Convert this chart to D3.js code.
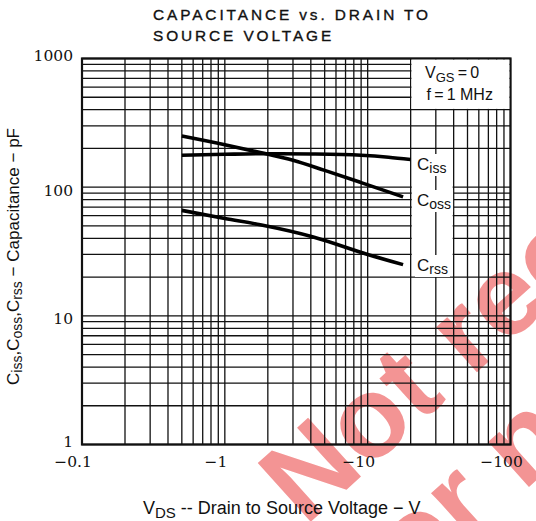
<!DOCTYPE html>
<html>
<head>
<meta charset="utf-8">
<script src="https://cdn.jsdelivr.net/npm/d3@7"></script>
<style>
  body { margin: 0; background: #fff; }
  svg { display: block; }
</style>
</head>
<body>
<div id="chart"></div>
<script>
// valeurs (VDS en valeur absolue, V ; capacités en pF)
const vdsTicks = [0.1, 1, 10, 100];
const capTicks = [1, 10, 100, 1000];

const cissVds = [0.5, 1, 2, 4, 9, 14, 20];
const cissPf  = [177, 180, 182, 181, 177, 171, 164];

const cossVds = [0.5, 1, 1.77, 3, 5, 8.9, 17.7];
const cossPf  = [250, 214, 186, 162, 135, 109, 84];

const crssVds = [0.5, 1, 1.77, 4.16, 10, 17.7];
const crssPf  = [66, 57, 51, 41, 30, 25];

const seriesNames = ["iss", "oss", "rss"];

var width = 536, height = 521;
var margin = {top: 58.5, right: 25.5, bottom: 76.5, left: 82};

var svg = d3.select("#chart")
  .append("svg")
  .attr("width", width)
  .attr("height", height);

var x = d3.scaleLog()
  .domain([vdsTicks[0], vdsTicks[vdsTicks.length - 1]])
  .range([margin.left, width - margin.right]);

var y = d3.scaleLog()
  .domain([capTicks[0], capTicks[capTicks.length - 1]])
  .range([height - margin.bottom, margin.top]);

var x0 = x.range()[0], x1 = x.range()[1];
var y0 = y.range()[0], y1 = y.range()[1];

// filigrane rouge en fond
var wm = svg.append("g")
  .attr("transform", "translate(305,527) rotate(-42)")
  .attr("font-family", "Liberation Sans, Arial, sans-serif")
  .attr("font-weight", "bold")
  .attr("font-size", 115)
  .attr("fill", "#f39494");
wm.append("text").text("Not recommended");
wm.append("text").attr("y", 120).text("for new design");

// titre
var title = svg.append("g")
  .attr("font-family", "Liberation Sans, Arial, sans-serif")
  .attr("font-size", 15.4)
  .attr("letter-spacing", 2.9)
  .attr("fill", "#111")
  .attr("stroke", "#111")
  .attr("stroke-width", 0.35);
title.append("text").attr("x", 153).attr("y", 19.5).text("CAPACITANCE vs. DRAIN TO");
title.append("text").attr("x", 153).attr("y", 41).text("SOURCE VOLTAGE");

// grille horizontale
svg.append("g")
  .selectAll("line")
  .data(y.ticks())
  .enter().append("line")
  .attr("x1", x0).attr("x2", x1)
  .attr("y1", function(d) { return y(d); })
  .attr("y2", function(d) { return y(d); })
  .attr("stroke", "#111")
  .attr("stroke-width", 1.3);

// colonne blanche des étiquettes (entre 20 V et 40 V)
svg.append("rect")
  .attr("x", x(20) + 1).attr("width", x(40) - x(20) - 2)
  .attr("y", y(200) + 1).attr("height", y(20) - y(200) - 2)
  .attr("fill", "#fff");

// grille verticale
svg.append("g")
  .selectAll("line")
  .data(x.ticks())
  .enter().append("line")
  .attr("y1", y0).attr("y2", y1)
  .attr("x1", function(d) { return x(d); })
  .attr("x2", function(d) { return x(d); })
  .attr("stroke", "#111")
  .attr("stroke-width", 1.3);

// cadre
svg.append("rect")
  .attr("x", x0).attr("y", y1)
  .attr("width", x1 - x0).attr("height", y0 - y1)
  .attr("fill", "none")
  .attr("stroke", "#111")
  .attr("stroke-width", 2.2);

// cartouche des conditions
svg.append("rect")
  .attr("x", x(20) + 0.8).attr("y", y1 + 1.2)
  .attr("width", x1 - x(20) - 2).attr("height", y(400) - y1 - 2)
  .attr("fill", "#fff");

var cond = svg.append("g")
  .attr("font-family", "Liberation Sans, Arial, sans-serif")
  .attr("font-size", 16)
  .attr("fill", "#111");
var t1 = cond.append("text").attr("x", 425).attr("y", 78);
t1.append("tspan").text("V");
t1.append("tspan").attr("font-size", 13).attr("dy", 4).text("GS");
t1.append("tspan").attr("dy", -4).text("\u2009=\u20090");
cond.append("text").attr("x", 426.5).attr("y", 100).text("f\u2009=\u20091 MHz");

// courbes
var line = d3.line()
  .x(function(d) { return x(d[0]); })
  .y(function(d) { return y(d[1]); })
  .curve(d3.curveMonotoneX);

var curves = [
  d3.zip(cissVds, cissPf),
  d3.zip(cossVds, cossPf),
  d3.zip(crssVds, crssPf)
];

svg.append("g")
  .selectAll("path")
  .data(curves)
  .enter().append("path")
  .attr("d", line)
  .attr("fill", "none")
  .attr("stroke", "#000")
  .attr("stroke-width", 3.6);

// étiquettes des courbes, sur fond blanc
var labelY = [170, 206, 271];
seriesNames.forEach(function(s, i) {
  var g = svg.append("g");
  var t = g.append("text")
    .attr("x", 417).attr("y", labelY[i])
    .attr("font-family", "Liberation Sans, Arial, sans-serif")
    .attr("font-size", 17)
    .attr("fill", "#111");
  t.append("tspan").text("C");
  t.append("tspan").attr("font-size", 14).attr("dy", 3).text(s);
  var b = t.node().getBBox();
  g.insert("rect", "text")
    .attr("x", b.x - 2).attr("y", b.y - 1)
    .attr("width", b.width + 4).attr("height", b.height + 1)
    .attr("fill", "#fff");
});

// graduations Y
svg.append("g")
  .selectAll("text")
  .data(capTicks)
  .enter().append("text")
  .attr("x", 73)
  .attr("y", function(d, i) {
    var extreme = (i === 0 || i === capTicks.length - 1);
    return y(d) + (extreme ? 2 : 8.5);
  })
  .attr("text-anchor", "end")
  .attr("font-family", "DejaVu Serif, serif")
  .attr("font-size", 15.5)
  .attr("fill", "#111")
  .text(function(d) { return d; });

// graduations X
svg.append("g")
  .selectAll("text")
  .data(vdsTicks)
  .enter().append("text")
  .attr("x", function(d) { return x(d) - 9; })
  .attr("y", 467)
  .attr("text-anchor", "middle")
  .attr("font-family", "DejaVu Serif, serif")
  .attr("font-size", 15.5)
  .attr("fill", "#111")
  .text(function(d) { return "\u2212" + d; });

// titre de l'axe X
var xt = svg.append("text")
  .attr("x", 143).attr("y", 514)
  .attr("font-family", "Liberation Sans, Arial, sans-serif")
  .attr("font-size", 18)
  .attr("fill", "#111");
xt.append("tspan").text("V");
xt.append("tspan").attr("font-size", 15).attr("dy", 4).text("DS");
xt.append("tspan").attr("dy", -4).text(" \u2010\u2010 Drain to Source Voltage \u2212 V");

// titre de l'axe Y
var yt = svg.append("text")
  .attr("transform", "translate(19,385) rotate(-90)")
  .attr("font-family", "Liberation Sans, Arial, sans-serif")
  .attr("font-size", 17)
  .attr("fill", "#111");
seriesNames.forEach(function(s, i) {
  yt.append("tspan").attr("dy", i === 0 ? 0 : -3).text((i === 0 ? "" : ",") + "C");
  yt.append("tspan").attr("font-size", 14).attr("dy", 3).text(s);
});
yt.append("tspan").attr("dy", -3).text(" \u2212 Capacitance \u2212 pF");
</script>
</body>
</html>
